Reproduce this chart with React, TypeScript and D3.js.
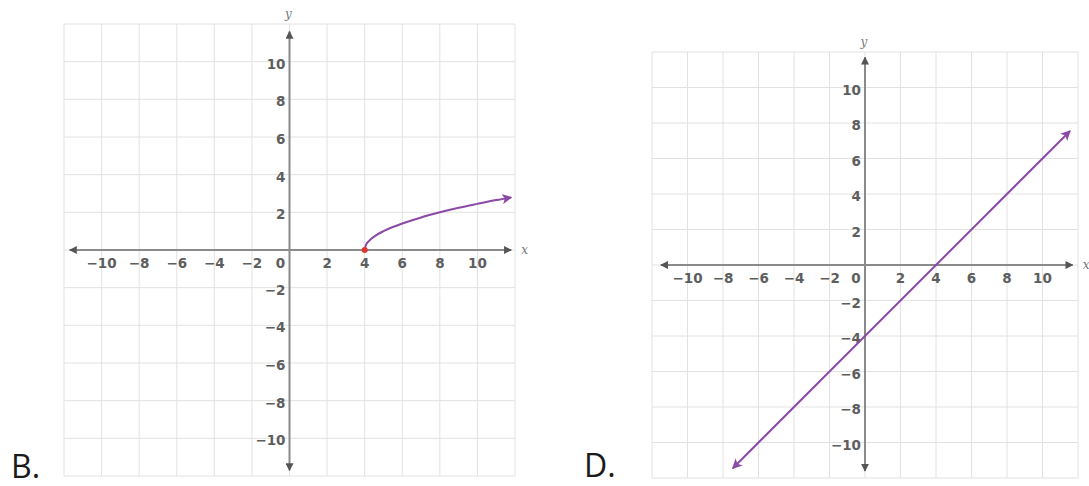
import * as d3 from 'd3';

// Tick values shown on both axes (the origin "0" is drawn separately)
const tickValues = [-10, -8, -6, -4, -2, 2, 4, 6, 8, 10];
const gridValues = [-12, -10, -8, -6, -4, -2, 0, 2, 4, 6, 8, 10, 12];

// Graph B: square-root curve starting at (4, 0)
const curveB: [number, number][] = [
  [4, 0], [4.06, 0.25], [4.25, 0.5], [4.56, 0.75], [5, 1], [5.5, 1.22], [6, 1.41],
  [7, 1.73], [8, 2], [9, 2.24], [10, 2.45], [11, 2.65], [11.8, 2.79],
];
const startPointB: [number, number] = [4, 0];

// Graph D: straight line through (0,-4) and (4,0)
const lineD: [number, number][] = [[-7.45, -11.45], [11.55, 7.55]];

interface PlaneProps {
  id: string;
  xRange: [number, number];
  yRange: [number, number];
  series: [number, number][];
  curved: boolean;
  arrowStart: boolean;
  dot?: [number, number];
  axisEnds: { left: number; right: number; top: number; bottom: number };
}

const AXIS = '#8a8a8a';
const GRID = '#e2e2e2';
const LABEL = '#5e5e5e';
const PURPLE = '#8a4aa6';

function Plane({ id, xRange, yRange, series, curved, arrowStart, dot, axisEnds }: PlaneProps) {
  const x = d3.scaleLinear().domain([-12, 12]).range(xRange);
  const y = d3.scaleLinear().domain([-12, 12]).range(yRange);
  const line = d3
    .line<[number, number]>()
    .x((d) => x(d[0]))
    .y((d) => y(d[1]))
    .curve(curved ? d3.curveMonotoneX : d3.curveLinear);

  const fontStyle = { fontFamily: 'DejaVu Sans, sans-serif', fontSize: 13.5, fontWeight: 700 as const };

  return (
    <g>
      <defs>
        <marker id={`${id}-axis`} viewBox="0 0 10 10" refX="9" refY="5" markerWidth="4" markerHeight="4" orient="auto-start-reverse">
          <path d="M0,0 L10,5 L0,10 z" fill="#555" />
        </marker>
        <marker id={`${id}-curve`} viewBox="0 0 10 10" refX="9" refY="5" markerWidth="10" markerHeight="10" markerUnits="userSpaceOnUse" orient="auto-start-reverse">
          <path d="M0,0 L10,5 L0,10 L2.5,5 z" fill={PURPLE} />
        </marker>
      </defs>

      {/* grid */}
      {gridValues.map((v) => (
        <line key={`gx${v}`} x1={x(v)} x2={x(v)} y1={y(-12)} y2={y(12)} stroke={GRID} strokeWidth={1} />
      ))}
      {gridValues.map((v) => (
        <line key={`gy${v}`} x1={x(-12)} x2={x(12)} y1={y(v)} y2={y(v)} stroke={GRID} strokeWidth={1} />
      ))}

      {/* axes */}
      <line x1={x(axisEnds.left)} x2={x(axisEnds.right)} y1={y(0)} y2={y(0)} stroke={AXIS} strokeWidth={2}
        markerStart={`url(#${id}-axis)`} markerEnd={`url(#${id}-axis)`} />
      <line x1={x(0)} x2={x(0)} y1={y(axisEnds.bottom)} y2={y(axisEnds.top)} stroke={AXIS} strokeWidth={2}
        markerStart={`url(#${id}-axis)`} markerEnd={`url(#${id}-axis)`} />

      {/* tick labels */}
      {tickValues.map((v) => (
        <text key={`tx${v}`} x={x(v)} y={y(0) + 18} textAnchor="middle" fill={LABEL} style={fontStyle}>
          {v < 0 ? `\u2212${-v}` : v}
        </text>
      ))}
      <text x={x(0) - 9} y={y(0) + 18} textAnchor="middle" fill={LABEL} style={fontStyle}>0</text>
      {tickValues.map((v) => (
        <text key={`ty${v}`} x={x(0) - 4} y={y(v) + 7} textAnchor="end" fill={LABEL} style={fontStyle}>
          {v < 0 ? `\u2212${-v}` : v}
        </text>
      ))}

      {/* axis names */}
      <text x={x(axisEnds.right) + 10} y={y(0) + 4} fill="#777" style={{ fontFamily: 'DejaVu Serif, serif', fontStyle: 'italic', fontSize: 12 }}>x</text>
      <text x={x(0) - 1} y={y(12) - 6} textAnchor="middle" fill="#777" style={{ fontFamily: 'DejaVu Serif, serif', fontStyle: 'italic', fontSize: 12 }}>y</text>

      {/* graph */}
      <path d={line(series) ?? ''} fill="none" stroke={PURPLE} strokeWidth={2}
        markerStart={arrowStart ? `url(#${id}-curve)` : undefined} markerEnd={`url(#${id}-curve)`} />
      {dot && <circle cx={x(dot[0])} cy={y(dot[1])} r={3} fill="#e0342c" />}
    </g>
  );
}

export default function App() {
  const letterStyle = { fontFamily: 'Open Sans, DejaVu Sans, sans-serif', fontSize: 32, fill: '#1a1a1a' };
  return (
    <div style={{ position: 'absolute', left: 0, top: 0 }}>
      <svg width={1089} height={486} style={{ display: 'block', background: '#fff' }}>
        <Plane id="b" xRange={[64, 515]} yRange={[476, 24]} series={curveB} curved arrowStart={false}
          dot={startPointB} axisEnds={{ left: -11.7, right: 11.8, top: 11.6, bottom: -11.7 }} />
        <Plane id="d" xRange={[652, 1078]} yRange={[478, 52]} series={lineD} curved={false} arrowStart
          axisEnds={{ left: -11.5, right: 11.7, top: 11.7, bottom: -11.6 }} />
        <text x={11} y={478} style={letterStyle}>B.</text>
        <text x={584} y={477} style={letterStyle}>D.</text>
      </svg>
    </div>
  );
}
